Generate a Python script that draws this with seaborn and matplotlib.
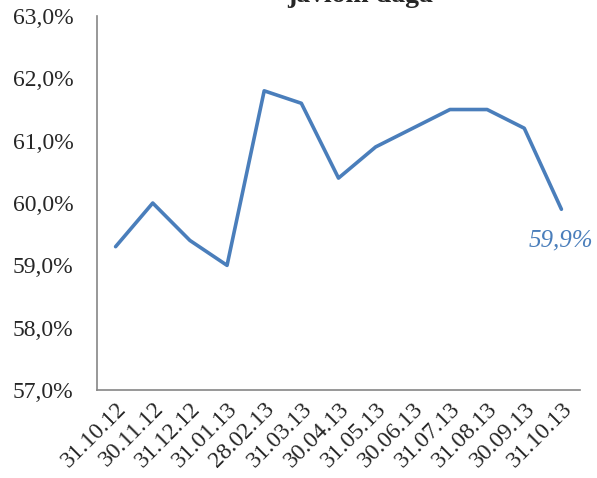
import numpy as np
import pandas as pd
import matplotlib
matplotlib.use('Agg')
import matplotlib.pyplot as plt
import seaborn as sns
from matplotlib.ticker import FuncFormatter, FixedLocator

# dates on the x axis and the share in percent
dates = ['31.10.12', '30.11.12', '31.12.12', '31.01.13', '28.02.13', '31.03.13', '30.04.13',
         '31.05.13', '30.06.13', '31.07.13', '31.08.13', '30.09.13', '31.10.13']
share = [59.3, 60.0, 59.4, 59.0, 61.8, 61.6, 60.4, 60.9, 61.2, 61.5, 61.5, 61.2, 59.9]
title_text = 'javlom daga'

df = pd.DataFrame({'pos': np.arange(len(dates)), 'share': share})

sns.set_style('white')
plt.rcParams['font.family'] = ['Liberation Serif', 'DejaVu Serif']

fig = plt.figure(figsize=(5.97, 4.78), dpi=100)
ax = fig.add_axes([0.1625, 0.184, 0.809, 0.7825])

sns.lineplot(data=df, x='pos', y='share', color='#4a7ebb', linewidth=2.6, ax=ax)

ax.set_ylim(57, 63)
ax.set_yticks(np.arange(57, 63.01, 1))
ax.yaxis.set_major_formatter(FuncFormatter(lambda v, p: f'{v:.1f}%'.replace('.', ',')))
ax.set_xlim(-0.5, len(dates) - 0.5)
ax.xaxis.set_major_locator(FixedLocator(np.arange(-0.5, len(dates), 1)))
ax.xaxis.set_major_formatter(FuncFormatter(lambda v, p: ''))
ax.xaxis.set_minor_locator(FixedLocator(np.arange(len(dates))))
ax.set_xticklabels(dates, minor=True, rotation=45, ha='right', rotation_mode='anchor')
ax.tick_params(axis='x', which='minor', length=0, labelsize=17, pad=6)
ax.tick_params(axis='x', which='major', length=5, width=1, color='#868686', direction='out')
ax.tick_params(axis='y', length=5, width=1, color='#868686', direction='out', labelsize=17, pad=12)
ax.set_xlabel('')
ax.set_ylabel('')

for side in ['top', 'right']:
    ax.spines[side].set_visible(False)
for side in ['left', 'bottom']:
    ax.spines[side].set_color('#868686')
    ax.spines[side].set_linewidth(1.2)

ax.text(len(dates) - 1, share[-1] - 0.5, '59,9%', color='#4a7ebb', fontsize=18,
        style='italic', ha='center', va='center')

fig.text(360 / 597, 1 - 2 / 478, title_text, fontsize=20, fontweight='bold',
         ha='center', va='baseline')

fig.savefig('out.png', dpi=100)
